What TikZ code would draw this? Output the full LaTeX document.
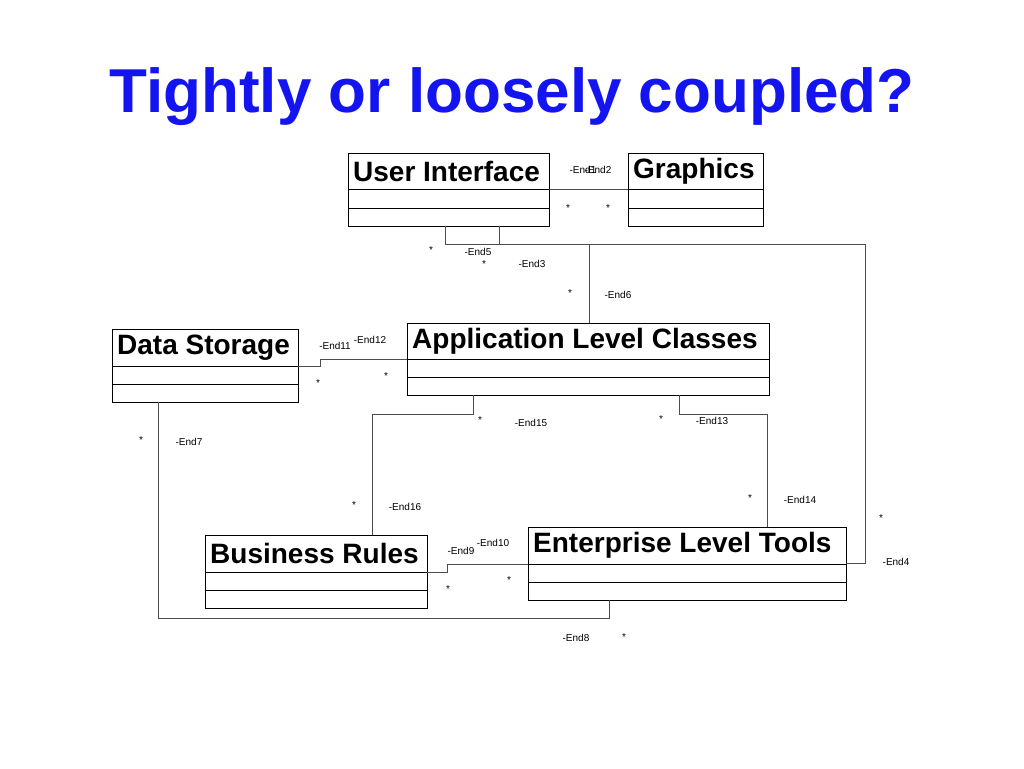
\documentclass[tikz,border=0pt]{standalone}
\usepackage{fontspec}
\setmainfont{Liberation Sans}
\usetikzlibrary{positioning,calc}
\definecolor{titleblue}{RGB}{20,20,240}

% one UML class box: name, left, top, right, bottom, line1, line2, title
\newcommand{\umlbox}[8]{%
	\node[classbox,minimum width={#4-#2},minimum height={#5-#3},anchor=north west](#1) at (#2,#3) {};
	\node[classname,anchor=west](#1t) at ($(#1.north west)+(5,{(#6-#3)/2})$) {#8};
	\draw[thin] (#1.west |- 0,#6) -- (#1.east |- 0,#6);
	\draw[thin] (#1.west |- 0,#7) -- (#1.east |- 0,#7);
}

\begin{document}
\begin{tikzpicture}[x=1pt,y=-1pt,% all picture coordinates in pixels
		classbox/.style={rectangle,draw=black,thin,inner sep=0pt},
		classname/.style={font=\fontsize{28}{30}\selectfont\bfseries,inner sep=0pt},
		endlabel/.style={font=\fontsize{10}{11}\selectfont,inner sep=0pt},
		link/.style={draw=black!70,thin}
	]
	\useasboundingbox (0,0) rectangle (1024,768);
	\node[font=\fontsize{62}{64}\selectfont\bfseries,text=titleblue](title) at (512,97) {Tightly or loosely coupled?};

	\umlbox{ui}{348}{153}{549}{226}{189}{208}{User Interface}
	\umlbox{gfx}{628}{153}{763}{226}{189}{208}{Graphics}
	\umlbox{ds}{112}{329}{298}{402}{366}{384}{Data Storage}
	\umlbox{app}{407}{323}{769}{395}{359}{377}{Application Level Classes}
	\umlbox{br}{205}{535}{427}{608}{572}{590}{Business Rules}
	\umlbox{ent}{528}{527}{846}{600}{564}{582}{Enterprise Level Tools}

	% associations
	\coordinate (uiA) at (445,226);
	\coordinate (uiB) at (499,226);
	\path[link] (ui.east |- 0,189) -- (gfx.west |- 0,189);
	\path[link] (uiA) -- (445,244) -- (589,244) -- (app.north -| 589,0);
	\path[link] (uiB) -- (499,244) -- (865,244) -- (865,563) -- (ent.east |- 0,563);
	\path[link] (ds.east |- 0,366) -- (320,366) -- (320,359) -- (app.west |- 0,359);
	\path[link] (app.south -| 473,0) -- (473,414) -- (372,414) -- (br.north -| 372,0);
	\path[link] (app.south -| 679,0) -- (679,414) -- (767,414) -- (ent.north -| 767,0);
	\path[link] (ds.south -| 158,0) -- (158,618) -- (609,618) -- (ent.south -| 609,0);
	\path[link] (br.east |- 0,572) -- (447,572) -- (447,564) -- (ent.west |- 0,564);

	% end labels
	\foreach \t/\x/\y in {-End1/583/170, -End2/598/170, */568/208, */608/208,
		*/431/250, -End5/478/252, */484/264, -End3/532/264, */570/293, -End6/618/295,
		-End12/370/340, -End11/335/346, */386/376, */318/383,
		*/480/420, -End15/531/423, */661/419, -End13/712/421,
		*/141/440, -End7/189/442, */750/498, -End14/800/500, */881/518, -End4/896/562,
		*/354/505, -End16/405/507, -End10/493/543, -End9/461/551, */509/580, */448/589,
		-End8/576/638, */624/637}
		\node[endlabel] at (\x,\y) {\t};
\end{tikzpicture}
\end{document}
